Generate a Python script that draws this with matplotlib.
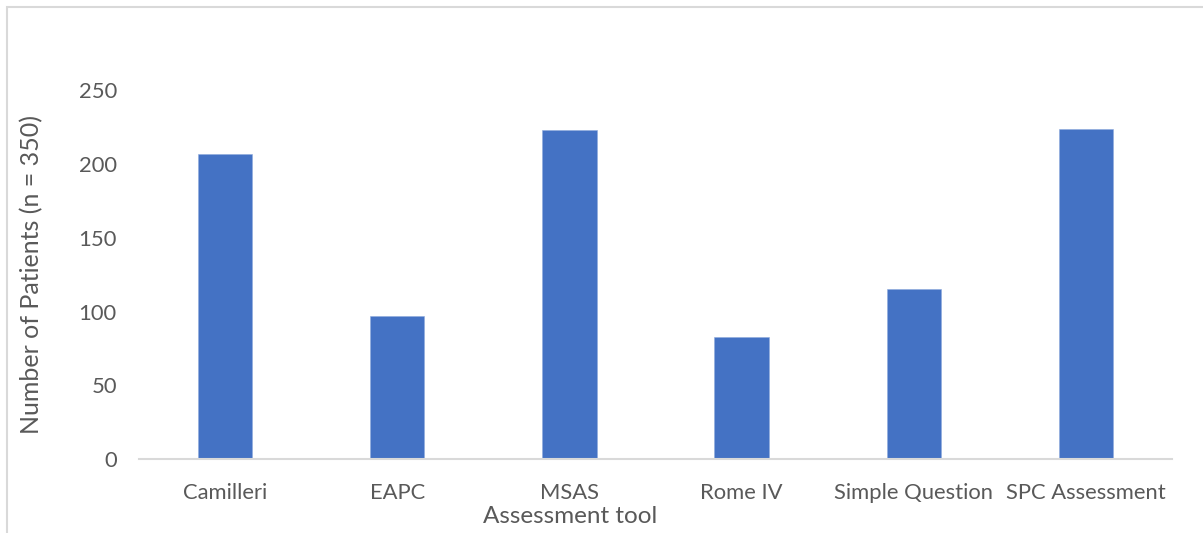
import matplotlib
matplotlib.use("Agg")
import matplotlib.pyplot as plt
from matplotlib.patches import Rectangle

categories = ["Camilleri", "EAPC", "MSAS", "Rome IV", "Simple Question", "SPC Assessment"]
patients = [207, 97, 223, 83, 115, 224]
y_ticks = [0, 50, 100, 150, 200, 250]

plt.rcParams["font.family"] = ["Lato", "DejaVu Sans"]
text_color = "#595959"

fig = plt.figure(figsize=(12.03, 5.33), dpi=100)
fig.patch.set_facecolor("white")

# chart-area frame (continues past the right and bottom edges)
fig.add_artist(Rectangle((7 / 1203, -0.1), 1.2, 1 - 7 / 533 + 0.1,
                         transform=fig.transFigure, fill=False,
                         edgecolor="#D9D9D9", linewidth=1.5))

ax = fig.add_axes([139 / 1203, 1 - 459 / 533, (1172 - 139) / 1203, (459 - 90.5) / 533])
x = range(len(categories))
ax.bar(x, patients, width=0.315, color="#4472C4", edgecolor="#8FAADC", linewidth=0.4)

ax.set_xlim(-0.5, len(categories) - 0.5)
ax.set_ylim(0, 250)
ax.set_yticks(y_ticks)
ax.set_xticks(list(x))
ax.set_xticklabels(categories)

for side in ("top", "right", "left"):
    ax.spines[side].set_visible(False)
ax.spines["bottom"].set_color("#D9D9D9")
ax.spines["bottom"].set_linewidth(1.5)

ax.tick_params(axis="both", length=0, labelsize=15.8, colors=text_color)
ax.tick_params(axis="y", pad=16)
ax.tick_params(axis="x", pad=17)

ax.set_xlabel("Assessment tool", fontsize=17.5, color=text_color)
ax.xaxis.set_label_coords(0.417, -0.128)
ax.set_ylabel("Number of Patients (n = 350)", fontsize=18, color=text_color)
ax.yaxis.set_label_coords(-0.093, 0.5)

fig.savefig("out.png", dpi=100, facecolor="white")
